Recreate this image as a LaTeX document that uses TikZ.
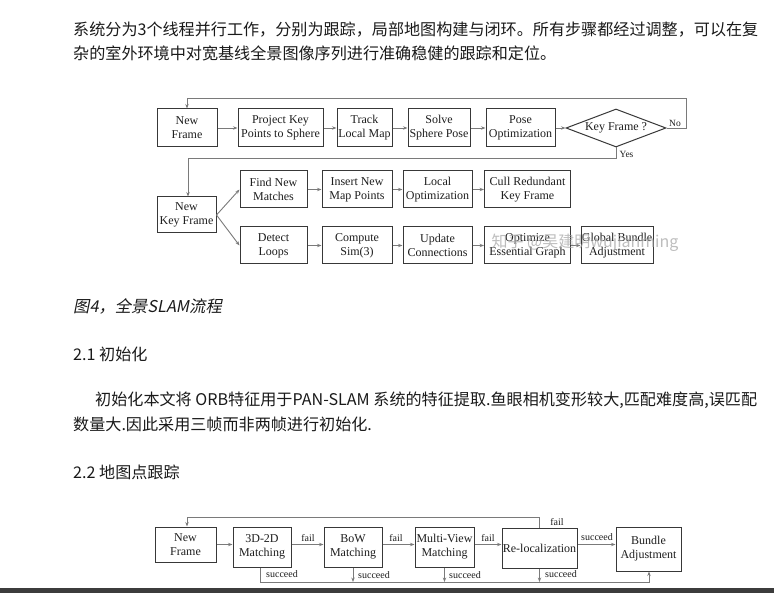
\documentclass[tikz,border=0pt]{standalone}
\usepackage{fontspec}
\setmainfont{Liberation Serif}
\newfontfamily\cjk{Noto Sans CJK SC}
\newfontfamily\cjkit{Noto Sans CJK SC}[FakeSlant=0.2]
\usetikzlibrary{arrows.meta,shapes.geometric}
\definecolor{boxc}{HTML}{383838}
\definecolor{linec}{HTML}{7A7A7A}
\definecolor{txtc}{HTML}{1E1E1E}
\definecolor{bodyc}{HTML}{1A1A1A}
\definecolor{barc}{HTML}{3C3C3C}
\definecolor{wmc}{HTML}{A8A8A8}
\begin{document}
\begin{tikzpicture}[x=1pt,y=-1pt,
  box/.style={draw=boxc, line width=1pt, fill=white, inner sep=0pt, align=center,
    font=\fontsize{12}{14}\selectfont, text=txtc},
  conn/.style={draw=linec, line width=0.9pt},
  arr/.style={conn, -{Stealth[length=4.5pt,width=3.4pt]}},
  lbl/.style={font=\fontsize{10}{12}\selectfont, text=txtc, inner sep=0pt},
  body/.style={font=\cjk\fontsize{16.1}{20}\selectfont, text=bodyc, anchor=west, inner sep=0pt},
]
\useasboundingbox (0,0) rectangle (774,593);
\fill[white] (0,0) rectangle (774,593);
\fill[barc] (0,588) rectangle (774,593);

% ---------- body text ----------
\node[body] (t1) at (73,30) {系统分为3个线程并行工作，分别为跟踪，局部地图构建与闭环。所有步骤都经过调整，可以在复};
\node[body] (t2) at (73,53) {杂的室外环境中对宽基线全景图像序列进行准确稳健的跟踪和定位。};
\node[body, font=\cjkit\fontsize{16.3}{20}\selectfont] (cap) at (73,306) {图4，全景SLAM流程};
\node[body] (h21) at (73,354) {2.1 初始化};
\node[body] (p1) at (95,400) {初始化本文将 ORB特征用于PAN-SLAM 系统的特征提取.鱼眼相机变形较大,匹配难度高,误匹配};
\node[body] (p2) at (73,424) {数量大.因此采用三帧而非两帧进行初始化.};
\node[body] (h22) at (73,472) {2.2 地图点跟踪};

% ---------- diagram 1 ----------
\node[box, minimum width=60pt, minimum height=38pt] (nf1) at (187,128) {New\\Frame};
\node[box, minimum width=85pt, minimum height=38pt] (pk) at (280.5,128) {Project Key\\Points to Sphere};
\node[box, minimum width=55pt, minimum height=38pt] (tl) at (364.5,128) {Track\\Local Map};
\node[box, minimum width=62pt, minimum height=38pt] (ssp) at (439,128) {Solve\\Sphere Pose};
\node[box, minimum width=69pt, minimum height=38pt] (po) at (520.5,128) {Pose\\Optimization};
\node[draw=boxc, line width=1pt, fill=white, diamond, aspect=2.6, inner sep=0pt,
  minimum width=100pt, minimum height=38pt, font=\fontsize{12}{14}\selectfont, text=txtc] (kf) at (616,128) {Key Frame ?};

\draw[arr] (nf1) -- (pk);
\draw[arr] (pk) -- (tl);
\draw[arr] (tl) -- (ssp);
\draw[arr] (ssp) -- (po);
\draw[arr] (po) -- (kf);

\coordinate (noC) at (686,98);
\draw[arr] (kf.east) -| (noC) -| (nf1.north);
\node[lbl, font=\fontsize{9.5}{11}\selectfont] (nolbl) at (675,123) {No};

\node[box, minimum width=59pt, minimum height=36pt] (nkf) at (186.5,215) {New\\Key Frame};
\coordinate (yesC) at (616,158);
\coordinate (yesD) at (188,158);
\draw[arr] (kf.south) -- (yesC) -- (yesD) -- (nkf.north -| yesD);
\node[lbl, font=\fontsize{9.5}{11}\selectfont] (yeslbl) at (626.5,154) {Yes};

\node[box, minimum width=67pt, minimum height=37pt] (fnm) at (273.5,189.5) {Find New\\Matches};
\node[box, minimum width=70pt, minimum height=37pt] (inm) at (357,189.5) {Insert New\\Map Points};
\node[box, minimum width=69pt, minimum height=37pt] (lo) at (437.5,189.5) {Local\\Optimization};
\node[box, minimum width=86pt, minimum height=37pt] (crk) at (527.5,189.5) {Cull Redundant\\Key Frame};

\node[box, minimum width=67pt, minimum height=37pt] (dl) at (273.5,245.5) {Detect\\Loops};
\node[box, minimum width=70pt, minimum height=37pt] (cs) at (357,245.5) {Compute\\Sim(3)};
\node[box, minimum width=69pt, minimum height=37pt] (uc) at (437.5,245.5) {Update\\Connections};
\node[box, minimum width=86pt, minimum height=37pt] (oeg) at (527.5,245.5) {Optimize\\Essential Graph};
\node[box, minimum width=72pt, minimum height=37pt] (gba) at (617,245.5) {Global Bundle\\Adjustment};

\draw[arr] (nkf.east) -- (fnm.west);
\draw[arr] (nkf.east) -- (dl.west);
\draw[arr] (fnm) -- (inm);
\draw[arr] (inm) -- (lo);
\draw[arr] (lo) -- (crk);
\draw[arr] (dl) -- (cs);
\draw[arr] (cs) -- (uc);
\draw[arr] (uc) -- (oeg);
\draw[arr] (oeg) -- (gba);

% watermark
\node[inner sep=0pt, font=\cjk\fontsize{16}{18}\selectfont, text=wmc, text opacity=0.75] (wm) at (585,243) {知乎 @吴建明wujianming};

% ---------- diagram 2 ----------
\node[box, minimum width=61pt, minimum height=35pt] (nf2) at (185.5,544.5) {New\\Frame};
\node[box, minimum width=58pt, minimum height=40pt] (m3d) at (262,547) {3D-2D\\Matching};
\node[box, minimum width=58pt, minimum height=40pt] (bow) at (353,547) {BoW\\Matching};
\node[box, minimum width=59pt, minimum height=40pt] (mv) at (444.5,547) {Multi-View\\Matching};
\node[box, minimum width=75pt, minimum height=40pt] (rl) at (539.5,548) {Re-localization};
\node[box, minimum width=65pt, minimum height=44pt] (ba) at (648.5,549) {Bundle\\Adjustment};

\draw[arr] (nf2.east) -- (m3d.west |- nf2.east);
\draw[arr] (m3d.east |- nf2.east) -- (bow.west |- nf2.east);
\draw[arr] (bow.east |- nf2.east) -- (mv.west |- nf2.east);
\draw[arr] (mv.east |- nf2.east) -- (rl.west |- nf2.east);
\draw[arr] (rl.east |- nf2.east) -- (ba.west |- nf2.east);

\node[lbl] (f1) at (308,538) {fail};
\node[lbl] (f2) at (396,538) {fail};
\node[lbl] (f3) at (488,538) {fail};
\node[lbl] (s5) at (597,537) {succeed};

\coordinate (fl) at (187,517);
\draw[arr] (rl.north) |- (fl) -- (nf2.north -| fl);
\node[lbl] (f4) at (557,522) {fail};

\coordinate (sb) at (260,582);
\coordinate (se) at (649,582);
\draw[arr] (m3d.south -| sb) -- (sb) -- (se) -- (ba.south -| se);
\draw[arr] (bow.south) -- (bow.south |- sb);
\draw[arr] (mv.south) -- (mv.south |- sb);
\draw[arr] (rl.south) -- (rl.south |- sb);

\node[lbl, anchor=west] (s1) at (266,574) {succeed};
\node[lbl, anchor=west] (s2) at (358,575) {succeed};
\node[lbl, anchor=west] (s3) at (449,575) {succeed};
\node[lbl, anchor=west] (s4) at (545,574) {succeed};
\end{tikzpicture}
\end{document}
